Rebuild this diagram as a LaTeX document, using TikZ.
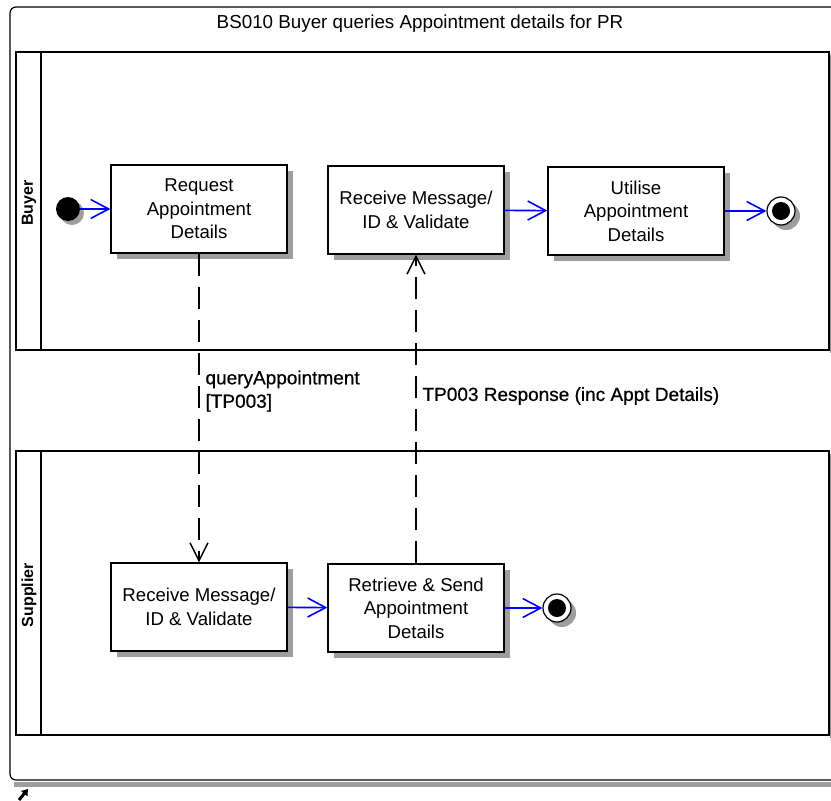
\documentclass[tikz,border=0pt]{standalone}
\usepackage{fontspec}
\setmainfont{Liberation Sans}
\usetikzlibrary{arrows.meta, shadows}

\begin{document}
\begin{tikzpicture}[x=1pt, y=-1pt,
	act/.style={shape=rectangle, draw=black, fill=white, line width=1.3pt, minimum width=176pt, minimum height=88pt, inner sep=2pt, align=center, font=\fontsize{18.6}{23.5}\selectfont, drop shadow={shadow xshift=6pt, shadow yshift=-6pt, fill=black!38, opacity=1}},
	startnode/.style={shape=circle, fill=black, minimum size=24pt, inner sep=0pt, drop shadow={shadow xshift=4pt, shadow yshift=-4pt, fill=black!38, opacity=1}},
	endnode/.style={shape=circle, draw=black, fill=white, line width=1.2pt, minimum size=28pt, inner sep=0pt, path picture={\fill[black] (path picture bounding box.center) circle (9pt);}, drop shadow={shadow xshift=5pt, shadow yshift=-5pt, fill=black!38, opacity=1}},
	lanename/.style={rotate=90, font=\fontsize{16}{16}\selectfont\bfseries},
	msglabel/.style={align=left, font=\fontsize{19}{23.5}\selectfont\addfontfeature{FakeBold=0.6}},
	flow/.style={draw=blue, line width=1.6pt, -{Straight Barb[length=18pt, width=19pt, line width=1.6pt]}},
	msg/.style={draw=black, line width=1.4pt, dash pattern=on 22pt off 11pt, -{Straight Barb[length=18pt, width=18pt, line width=1.4pt]}}]

	\useasboundingbox (0,0) rectangle (831,801);

	\fill[black!38] (14,782) rectangle (831,787);
	\draw[line width=1.2pt, rounded corners=6pt] (831,7) -- (10,7) -- (10,780) -- (831,780);
	\node[font=\fontsize{18.8}{18.8}\selectfont] (title) at (420,24) {BS010 Buyer queries Appointment details for PR};

	\draw[black!45, line width=2pt] (831,55) -- (831,353);
	\draw[line width=1.5pt] (16,52) rectangle (829,350);
	\draw[line width=1.5pt] (41,52) -- (41,350);
	\node[lanename] (buyer) at (29,203) {Buyer};

	\draw[black!45, line width=2pt] (831,454) -- (831,738);
	\draw[line width=1.5pt] (16,451) rectangle (829,735);
	\draw[line width=1.5pt] (41,451) -- (41,735);
	\node[lanename] (supplier) at (29,595) {Supplier};

	\node[startnode] (start) at (68,209) {};
	\node[act] (request) at (199,209) {Request\\Appointment\\Details};
	\node[act] (recvbuyer) at (416,210) {Receive Message/\\ID \& Validate};
	\node[act] (utilise) at (636,211) {Utilise\\Appointment\\Details};
	\node[endnode] (endbuyer) at (781,211) {};

	\node[act] (recvsupplier) at (199,607) {Receive Message/\\ID \& Validate};
	\node[act] (retrieve) at (416,608) {Retrieve \& Send\\Appointment\\Details};
	\node[endnode] (endsupplier) at (557,608) {};

	\path [flow] (start) edge (request);
	\path [flow] (recvbuyer) edge (utilise);
	\path [flow] (utilise) edge (endbuyer);
	\path [flow] (recvsupplier) edge (retrieve);
	\path [flow] (retrieve) edge (endsupplier);

	\path [msg] (request) edge (recvsupplier);
	\path [msg] (retrieve) edge (recvbuyer);

	\node[msglabel, anchor=north west] (query) at (202,367) {queryAppointment\\{[TP003]}};
	\node[msglabel, anchor=west] (response) at (419,396) {TP003 Response (inc Appt Details)};

	\coordinate (tail) at (19,800);
	\coordinate (tip) at (28,789);
	\draw[line width=3pt, -{Triangle[length=6pt, width=8pt]}] (tail) -- (tip);
\end{tikzpicture}
\end{document}
